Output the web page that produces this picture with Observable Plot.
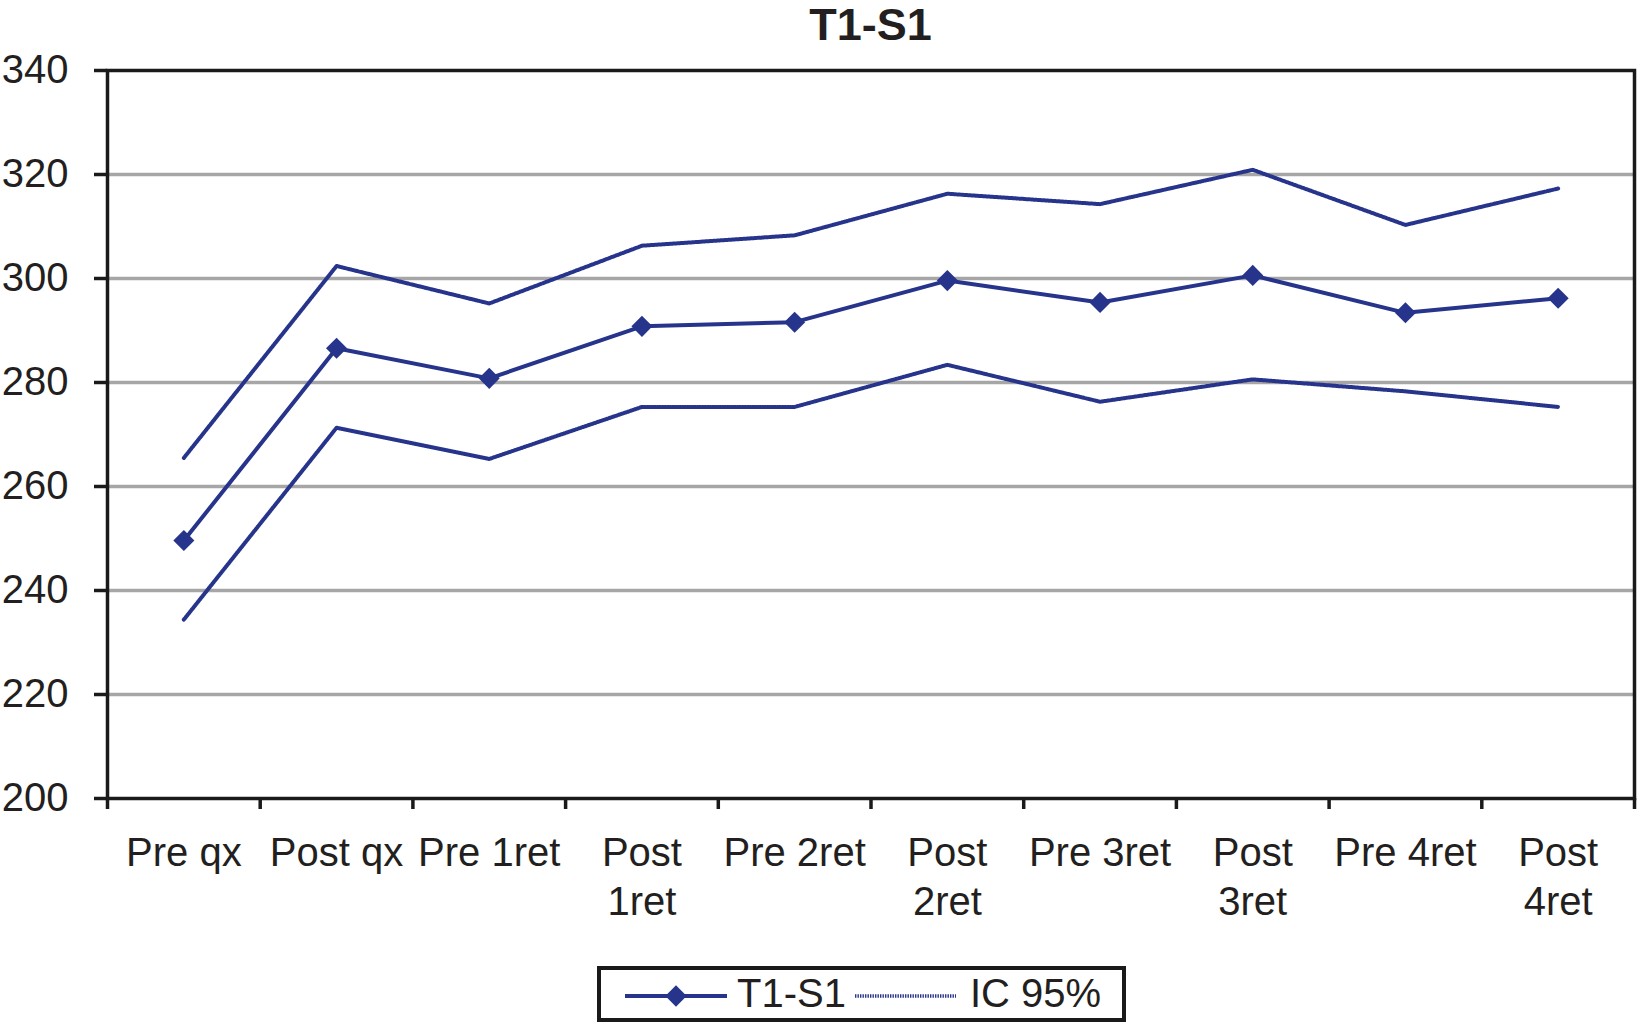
<!DOCTYPE html>
<html>
<head>
<meta charset="utf-8">
<script src="https://cdn.jsdelivr.net/npm/d3@7"></script>
<script src="https://cdn.jsdelivr.net/npm/@observablehq/plot@0.6"></script>
<style>
  html, body { margin: 0; padding: 0; background: #fff; overflow: hidden; }
  body { width: 1638px; height: 1023px; font-family: "Liberation Sans", Arial, sans-serif; color: #231f20; }
  #title { height: 50px; line-height: 50px; font-size: 45px; font-weight: bold; text-align: center; padding-left: 107px; padding-right: 4px; }
  #chart svg { display: block; overflow: visible; }
  #legend svg { display: block; }
</style>
</head>
<body>
<div id="title"></div>
<div id="chart"></div>
<div id="legend"></div>
<script>
const title = "T1-S1";
const categories = ["Pre qx","Post qx","Pre 1ret","Post 1ret","Pre 2ret","Post 2ret","Pre 3ret","Post 3ret","Pre 4ret","Post 4ret"];
const tickLabels = ["Pre qx","Post qx","Pre 1ret","Post\n1ret","Pre 2ret","Post\n2ret","Pre 3ret","Post\n3ret","Pre 4ret","Post\n4ret"];
const meanValues  = [249.6, 286.6, 280.8, 290.8, 291.6, 299.6, 295.4, 300.6, 293.4, 296.2];
const upperValues = [265.5, 302.4, 295.2, 306.3, 308.3, 316.3, 314.3, 320.9, 310.3, 317.3];
const lowerValues = [234.4, 271.3, 265.3, 275.3, 275.3, 283.4, 276.3, 280.6, 278.3, 275.3];
const yTicks = [200, 220, 240, 260, 280, 300, 320, 340];
const seriesNames = ["T1-S1", "IC 95%"];

const navy = "#27348b";
const ink = "#1a1a1a";
const dots = "1.4,1.1";

document.getElementById("title").textContent = title;

const rows = categories.map((c, i) => ({
  cat: c, pos: i + 0.5, mean: meanValues[i], upper: upperValues[i], lower: lowerValues[i]
}));

const chart = Plot.plot({
  width: 1638,
  height: 900,
  marginTop: 20,
  marginBottom: 152,
  marginLeft: 107,
  marginRight: 4,
  x: { type: "linear", domain: [0, categories.length], axis: null },
  y: { domain: [200, 340], axis: null },
  style: { fontFamily: "'Liberation Sans', Arial, sans-serif", fontSize: "40px", color: "#231f20", background: "#fff" },
  marks: [
    Plot.ruleY(yTicks.slice(1, -1), { stroke: "#a6a6a6", strokeWidth: 3.5 }),
    Plot.line(rows, { x: "pos", y: "upper", stroke: navy, strokeWidth: 4, strokeDasharray: dots }),
    Plot.line(rows, { x: "pos", y: "lower", stroke: navy, strokeWidth: 4, strokeDasharray: dots }),
    Plot.line(rows, { x: "pos", y: "mean", stroke: navy, strokeWidth: 4 }),
    Plot.dot(rows, { x: "pos", y: "mean", symbol: "diamond2", r: 9.5, fill: navy, stroke: "none" }),
    Plot.frame({ stroke: ink, strokeWidth: 3.5 }),
    Plot.axisY({ ticks: yTicks, tickSize: 13, tickPadding: 26, strokeWidth: 3.5, stroke: ink, fontSize: 40, label: null, tickFormat: d => String(d) }),
    Plot.axisX({ ticks: d3.range(categories.length + 1), tickSize: 11, strokeWidth: 3.5, stroke: ink, label: null, tickFormat: () => "" }),
    Plot.axisX({ ticks: d3.range(categories.length).map(i => i + 0.5), tickSize: 0, tickPadding: 33, fontSize: 40, lineHeight: 1.22, label: null,
      tickFormat: v => tickLabels[Math.round(v - 0.5)] })
  ]
});
document.getElementById("chart").appendChild(chart);

// Legend (below the chart)
const lg = d3.select("#legend").append("svg").attr("width", 1638).attr("height", 73);
lg.append("rect").attr("x", 599).attr("y", 18).attr("width", 525).attr("height", 52)
  .attr("fill", "#fff").attr("stroke", ink).attr("stroke-width", 4);
const ly = 46;
lg.append("line").attr("x1", 625).attr("x2", 727).attr("y1", ly).attr("y2", ly)
  .attr("stroke", navy).attr("stroke-width", 4);
lg.append("path").attr("d", d3.symbol(d3.symbolDiamond2, 2 * 12 * 12)()).attr("transform", `translate(676,${ly})`)
  .attr("fill", navy);
lg.append("text").attr("x", 737).attr("y", 57).attr("font-size", 40).attr("fill", "#231f20")
  .attr("font-family", "'Liberation Sans', Arial, sans-serif").text(seriesNames[0]);
lg.append("line").attr("x1", 855).attr("x2", 956).attr("y1", ly).attr("y2", ly)
  .attr("stroke", navy).attr("stroke-width", 3.5).attr("stroke-dasharray", dots);
lg.append("text").attr("x", 970).attr("y", 57).attr("font-size", 40).attr("fill", "#231f20")
  .attr("font-family", "'Liberation Sans', Arial, sans-serif").text(seriesNames[1]);
</script>
</body>
</html>
